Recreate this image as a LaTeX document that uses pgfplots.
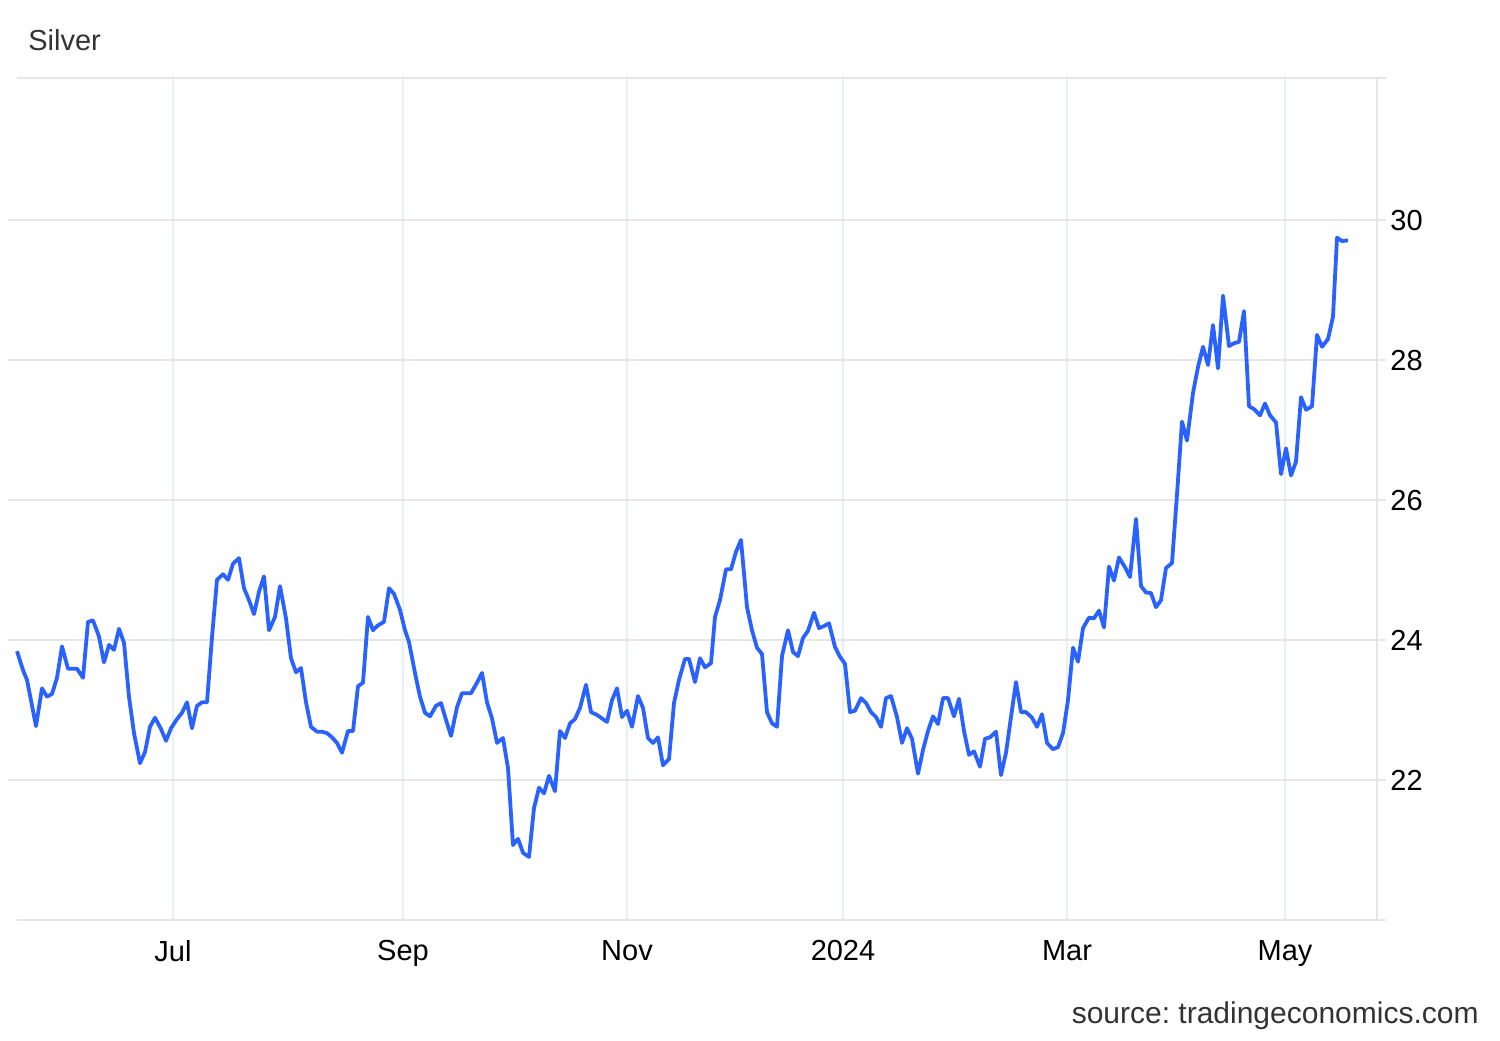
\documentclass[border=0pt]{standalone}
\usepackage{pgfplots}
\pgfplotsset{compat=1.18}
\usepackage{fontspec}
\setmainfont{Liberation Sans}
\frenchspacing
\definecolor{lineblue}{HTML}{2962FF}
\definecolor{hgrid}{HTML}{E6E6E6}
\definecolor{vgrid}{HTML}{E8F0F2}
\definecolor{txtgray}{HTML}{333333}
\pgfplotstableread{
x y
17 23.84
23 23.57
27 23.43
36 22.77
42 23.31
47 23.19
52 23.23
57 23.46
62 23.91
68 23.59
77 23.59
83 23.46
88 24.26
93 24.28
99 24.05
104 23.68
109 23.93
114 23.86
119 24.16
124 23.96
129 23.19
134 22.67
140 22.24
145 22.40
150 22.76
155 22.89
161 22.73
166 22.56
171 22.74
177 22.87
182 22.96
187 23.11
192 22.74
197 23.06
202 23.11
207 23.11
212 24.04
217 24.86
223 24.94
228 24.86
233 25.09
239 25.17
244 24.74
249 24.57
254 24.37
259 24.69
264 24.91
269 24.14
275 24.33
280 24.77
286 24.31
291 23.74
296 23.54
301 23.60
306 23.11
311 22.76
317 22.69
322 22.69
327 22.67
332 22.61
337 22.53
342 22.39
348 22.70
353 22.70
358 23.34
363 23.39
368 24.33
373 24.14
378 24.21
384 24.26
389 24.74
394 24.66
400 24.43
405 24.14
409 23.97
415 23.53
420 23.19
425 22.96
430 22.91
436 23.06
441 23.10
446 22.86
451 22.63
457 23.04
462 23.24
471 23.24
477 23.39
482 23.53
487 23.11
492 22.88
497 22.53
503 22.60
508 22.17
513 21.07
518 21.16
523 20.96
529 20.90
534 21.60
539 21.89
544 21.81
549 22.06
555 21.84
560 22.70
565 22.60
570 22.81
575 22.87
580 23.03
586 23.36
591 22.97
597 22.93
602 22.88
607 22.83
612 23.14
617 23.31
622 22.90
627 22.99
632 22.76
638 23.20
643 23.03
648 22.60
653 22.53
658 22.61
663 22.21
669 22.30
674 23.10
679 23.43
685 23.73
689 23.73
695 23.40
700 23.74
705 23.61
711 23.67
715 24.33
720 24.57
726 25.01
731 25.01
736 25.26
741 25.43
747 24.47
752 24.14
757 23.89
762 23.80
767 22.97
772 22.81
777 22.76
782 23.77
788 24.14
793 23.83
798 23.77
803 24.03
808 24.13
814 24.39
819 24.17
824 24.20
829 24.24
835 23.90
840 23.76
845 23.66
850 22.97
855 22.99
861 23.17
866 23.10
871 22.97
876 22.90
881 22.76
886 23.17
891 23.20
897 22.90
902 22.53
907 22.74
912 22.59
918 22.09
923 22.43
928 22.70
933 22.91
938 22.80
943 23.17
948 23.17
954 22.91
959 23.16
964 22.70
969 22.36
974 22.41
980 22.19
985 22.59
990 22.61
996 22.69
1001 22.07
1006 22.39
1011 22.90
1016 23.40
1021 22.97
1026 22.97
1032 22.89
1037 22.76
1042 22.94
1047 22.53
1053 22.44
1058 22.47
1063 22.67
1068 23.14
1073 23.89
1078 23.69
1083 24.17
1089 24.32
1094 24.31
1099 24.42
1104 24.18
1109 25.05
1114 24.85
1119 25.18
1125 25.04
1130 24.90
1136 25.73
1141 24.77
1146 24.68
1151 24.67
1156 24.47
1161 24.57
1166 25.03
1172 25.10
1177 26.08
1182 27.12
1187 26.85
1193 27.53
1198 27.90
1203 28.19
1208 27.93
1213 28.50
1218 27.88
1223 28.92
1229 28.20
1234 28.24
1239 28.26
1244 28.70
1249 27.34
1254 27.30
1260 27.21
1265 27.38
1270 27.21
1276 27.11
1281 26.37
1286 26.74
1291 26.35
1296 26.55
1301 27.47
1306 27.29
1312 27.34
1317 28.36
1322 28.19
1328 28.30
1333 28.62
1337 29.75
1342 29.70
1348 29.71
}\silver
\begin{document}
\begin{tikzpicture}
\useasboundingbox (0,0) rectangle (750pt,520pt);
\begin{axis}[
  at={(8.5pt,60pt)}, anchor=south west,
  scale only axis, width=680pt, height=421pt,
  xmin=17, xmax=1377, ymin=20, ymax=32.03,
  clip=false,
  axis line style={draw=none},
  xtick={173,403,627,843,1067,1285},
  xticklabels={Jul,Sep,Nov,2024,Mar,May},
  ytick={22,24,26,28,30},
  yticklabel pos=right,
  xmajorgrids, ymajorgrids,
  x grid style={color=vgrid, line width=0.6pt},
  y grid style={color=hgrid, line width=0.6pt},
  xtick style={draw=none},
  ytick style={draw=hgrid, line width=0.6pt},
  tick align=outside,
  major tick length=4.5pt,
  /pgf/number format/assume math mode=true,
  ticklabel style={font=\fontsize{14.5pt}{17pt}\selectfont, text=black},
  xticklabel style={anchor=north, inner sep=0pt, yshift=-5.5pt},
  yticklabel style={anchor=west, inner sep=0pt, xshift=2pt},
]
\draw[hgrid, line width=0.6pt] (axis cs:1377,20) -- (axis cs:1377,32.03);
\draw[hgrid, line width=0.6pt] (axis cs:17,32.03) -- (axis cs:1386,32.03);
\draw[hgrid, line width=0.6pt] (axis cs:17,20) -- (axis cs:1386,20);
\addplot[color=lineblue, line width=1.9pt, line join=round, no markers] table[x=x,y=y] {\silver};
\end{axis}
\node[anchor=west, inner sep=0pt, text=txtgray, font=\fontsize{14.5pt}{17pt}\selectfont] at (14pt,500pt) {Silver};
\node[anchor=east, inner sep=0pt, text=txtgray, font=\fontsize{15pt}{18pt}\selectfont] at (739.5pt,12pt) {source: tradingeconomics.com};
\end{tikzpicture}
\end{document}
